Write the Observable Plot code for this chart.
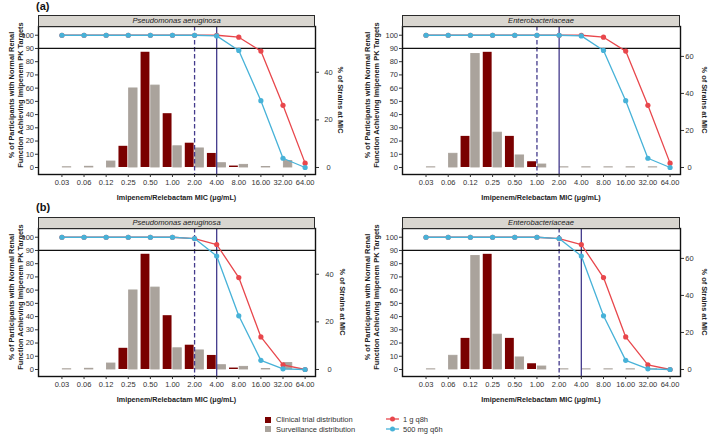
<!DOCTYPE html>
<html><head><meta charset="utf-8">
<script src="https://cdn.jsdelivr.net/npm/d3@7"></script>
<script src="https://cdn.jsdelivr.net/npm/@observablehq/plot@0.6"></script>
<style>
body{margin:0;background:#fff;font-family:"Liberation Sans",Arial,Helvetica,sans-serif;}
#root{position:relative;width:709px;height:435px;overflow:hidden;background:#fff}
.strip{position:absolute;background:#d9d6d0;border:1px solid #2a2a2a;box-sizing:border-box;font-style:italic;font-size:7.6px;text-align:center;color:#222;display:flex;align-items:center;justify-content:center}
.ytitle{position:absolute;width:180px;height:20px;font-weight:bold;font-size:7.4px;line-height:9px;text-align:center;color:#222;transform:rotate(-90deg);white-space:nowrap}
.rtitle{position:absolute;width:120px;height:10px;font-weight:bold;font-size:7.4px;line-height:10px;text-align:center;color:#222;transform:rotate(90deg);white-space:nowrap}
.xtitle{position:absolute;width:260px;height:10px;font-weight:bold;font-size:7.2px;line-height:10px;text-align:center;color:#222;white-space:nowrap}
.plabel{position:absolute;font-weight:bold;font-size:11px;color:#111}
.leg{position:absolute;font-size:7.5px;color:#333;white-space:nowrap;line-height:10px}
</style>
</head><body><div id="root"></div>
<script>
// ---------- data ----------
const mic = ["0.03","0.06","0.12","0.25","0.50","1.00","2.00","4.00","8.00","16.00","32.00","64.00"];
// % of strains at MIC
const pseudoClinical = [null,null,null,8.9,48.4,22.6,10.2,5.9,0.6,null,null,null];
const pseudoSurveillance = [0.1,0.3,2.5,33.2,34.4,8.9,8.0,1.8,1.1,0.2,2.7,null];
const enteroClinical = [null,null,16.8,62.2,16.8,3.1,null,null,null,null,null,null];
const enteroSurveillance = [0.1,7.4,61.3,18.8,6.5,1.6,0.1,0.1,0.1,0.1,0.1,null];
// % of participants achieving PK targets
const ptaA_1g_q8h = [100,100,100,100,100,100,100,100,98.5,88,47,3.3];
const ptaA_500mg_q6h = [100,100,100,100,100,100,100,99.5,88.5,50.5,7,0];
const ptaB_1g_q8h = [100,100,100,100,100,100,99,94.5,69.5,24.6,3.5,0];
const ptaB_500mg_q6h = [100,100,100,100,100,100,99,85.8,40.6,6.9,0.5,0];
const leftTicks = [0,10,20,30,40,50,60,70,80,90,100];
const pseudoRightTicks = [0,20,40];
const enteroRightTicks = [0,20,40,60];
const organisms = ["Pseudomonas aeruginosa","Enterobacteriaceae"];
const regimens = ["1 g q8h","500 mg q6h"];
const distributions = ["Clinical trial distribution","Surveillance distribution"];
const panelLabels = ["(a)","(b)"];
const breakpointsA = [["2.00","4.00"],["1.00","2.00"]]; // [dashed, solid]
const breakpointsB = [["2.00","4.00"],["2.00","4.00"]];

// ---------- style ----------
const RED = "#e8474c", BLUE = "#47b2d8", MAROON = "#7a0000", GRAY = "#aaa39c", BP = "#433a8c";
const root = document.getElementById("root");

function rows(arr){ return arr.map((v,i)=>({i, v})).filter(d=>d.v!=null); }

const panels = [
  {row:0,col:0,org:0,clin:pseudoClinical,surv:pseudoSurveillance,factor:1.8,rticks:pseudoRightTicks,rpad:10,q8:ptaA_1g_q8h,q6:ptaA_500mg_q6h,bp:breakpointsA[0],rt:340},
  {row:0,col:1,org:1,clin:enteroClinical,surv:enteroSurveillance,factor:1.4,rticks:enteroRightTicks,rpad:6,q8:ptaA_1g_q8h,q6:ptaA_500mg_q6h,bp:breakpointsA[1],rt:704},
  {row:1,col:0,org:0,clin:pseudoClinical,surv:pseudoSurveillance,factor:1.8,rticks:pseudoRightTicks,rpad:11,q8:ptaB_1g_q8h,q6:ptaB_500mg_q6h,bp:breakpointsB[0],rt:342},
  {row:1,col:1,org:1,clin:enteroClinical,surv:enteroSurveillance,factor:1.4,rticks:enteroRightTicks,rpad:6,q8:ptaB_1g_q8h,q6:ptaB_500mg_q6h,bp:breakpointsB[1],rt:704}
];

for (const p of panels) {
  const top = p.row === 0 ? 0 : 202;
  const left = p.col === 0 ? 0 : 354;
  const width = p.col === 0 ? 354 : 355;
  const ml = p.col === 0 ? 38 : 48;
  const mr = p.col === 0 ? 39 : 29;
  const mt = 26, mb = 26, H = 200;
  const f = p.factor;
  const plot = Plot.plot({
    width, height: H, marginLeft: ml, marginRight: mr, marginTop: mt, marginBottom: mb,
    x: {type: "linear", domain: [-1.06, 11.47]},
    y: {domain: [-5.3, 106.6]},
    style: {fontFamily: '"Liberation Sans",Arial,sans-serif', fontSize: "7.5px", color: "#333", background: "transparent", overflow: "visible"},
    marks: [
      Plot.rect(rows(p.clin), {x1: d => d.i - 0.42, x2: d => d.i - 0.02, y1: 0, y2: d => d.v * f, fill: MAROON}),
      Plot.rect(rows(p.surv), {x1: d => d.i + 0.04, x2: d => d.i + 0.42, y1: 0, y2: d => d.v * f, fill: GRAY, stroke: GRAY, strokeWidth: 0.9}),
      Plot.ruleX([p.bp[0]], {x: d => mic.indexOf(d), stroke: BP, strokeWidth: 1.3, strokeDasharray: "4.5,2.5"}),
      Plot.ruleX([p.bp[1]], {x: d => mic.indexOf(d), stroke: BP, strokeWidth: 1.3}),
      Plot.ruleY([90], {stroke: "#111", strokeWidth: 1.3}),
      Plot.line(rows(p.q8), {x: "i", y: "v", stroke: RED, strokeWidth: 1.3}),
      Plot.dot(rows(p.q8), {x: "i", y: "v", r: 2.6, fill: RED}),
      Plot.line(rows(p.q6), {x: "i", y: "v", stroke: BLUE, strokeWidth: 1.3}),
      Plot.dot(rows(p.q6), {x: "i", y: "v", r: 2.6, fill: BLUE}),
      Plot.frame({stroke: "#111", strokeWidth: 1.4}),
      Plot.axisX({ticks: d3.range(mic.length), tickFormat: i => mic[i], tickSize: 3, tickPadding: 2, label: null}),
      Plot.axisY({ticks: leftTicks, tickSize: 3, tickPadding: 1.5, label: null}),
      Plot.axisY({anchor: "right", ticks: p.rticks.map(v => v * f), tickFormat: v => String(Math.round(v / f)), tickSize: 3, tickPadding: p.rpad, textAnchor: "middle", label: null})
    ]
  });
  plot.style.position = "absolute";
  plot.style.left = left + "px";
  plot.style.top = top + "px";
  root.appendChild(plot);

  // strip
  const strip = document.createElement("div");
  strip.className = "strip";
  strip.style.left = (left + ml) + "px";
  strip.style.top = (top + mt - 11) + "px";
  strip.style.width = (width - ml - mr) + "px";
  strip.style.height = "11.5px";
  strip.textContent = organisms[p.org];
  root.appendChild(strip);

  // left y title
  const yt = document.createElement("div");
  yt.className = "ytitle";
  const cx = p.col === 0 ? 17 : 373;
  const cy = top + 95;
  yt.style.left = (cx - 90) + "px";
  yt.style.top = (cy - 10) + "px";
  yt.innerHTML = "% of Participants with Normal Renal<br>Function Achieving Imipenem PK Targets";
  root.appendChild(yt);

  // right y title
  const rt = document.createElement("div");
  rt.className = "rtitle";
  rt.style.left = (p.rt - 60) + "px";
  rt.style.top = (top + 100 - 5) + "px";
  rt.textContent = "% of Strains at MIC";
  root.appendChild(rt);

  // x title
  const xt = document.createElement("div");
  xt.className = "xtitle";
  const xc = left + ml + (width - ml - mr) / 2;
  xt.style.left = (xc - 130) + "px";
  xt.style.top = (top + 193) + "px";
  xt.textContent = "Imipenem/Relebactam MIC (\u03bcg/mL)";
  root.appendChild(xt);
}

// panel labels
panelLabels.forEach((t, k) => {
  const d = document.createElement("div");
  d.className = "plabel";
  d.style.left = "36px";
  d.style.top = (k === 0 ? 0 : 201) + "px";
  d.textContent = t;
  root.appendChild(d);
});

// legend
const distColors = [MAROON, GRAY];
distributions.forEach((t, k) => {
  const d = document.createElement("div");
  d.className = "leg";
  d.style.left = "265px";
  d.style.top = (415 + k * 9.8) + "px";
  d.innerHTML = `<span style="display:inline-block;width:6px;height:6px;background:${distColors[k]};vertical-align:-0.5px;margin-right:5px"></span>${t}`;
  root.appendChild(d);
});
const regColors = [RED, BLUE];
regimens.forEach((t, k) => {
  const d = document.createElement("div");
  d.className = "leg";
  d.style.left = "386px";
  d.style.top = (415 + k * 9.8) + "px";
  d.innerHTML = `<svg width="13" height="8" style="vertical-align:-1px;margin-right:4px"><line x1="0" x2="13" y1="4" y2="4" stroke="${regColors[k]}" stroke-width="1.3"/><circle cx="6.5" cy="4" r="2.5" fill="${regColors[k]}"/></svg>${t}`;
  root.appendChild(d);
});
</script>
</body></html>
